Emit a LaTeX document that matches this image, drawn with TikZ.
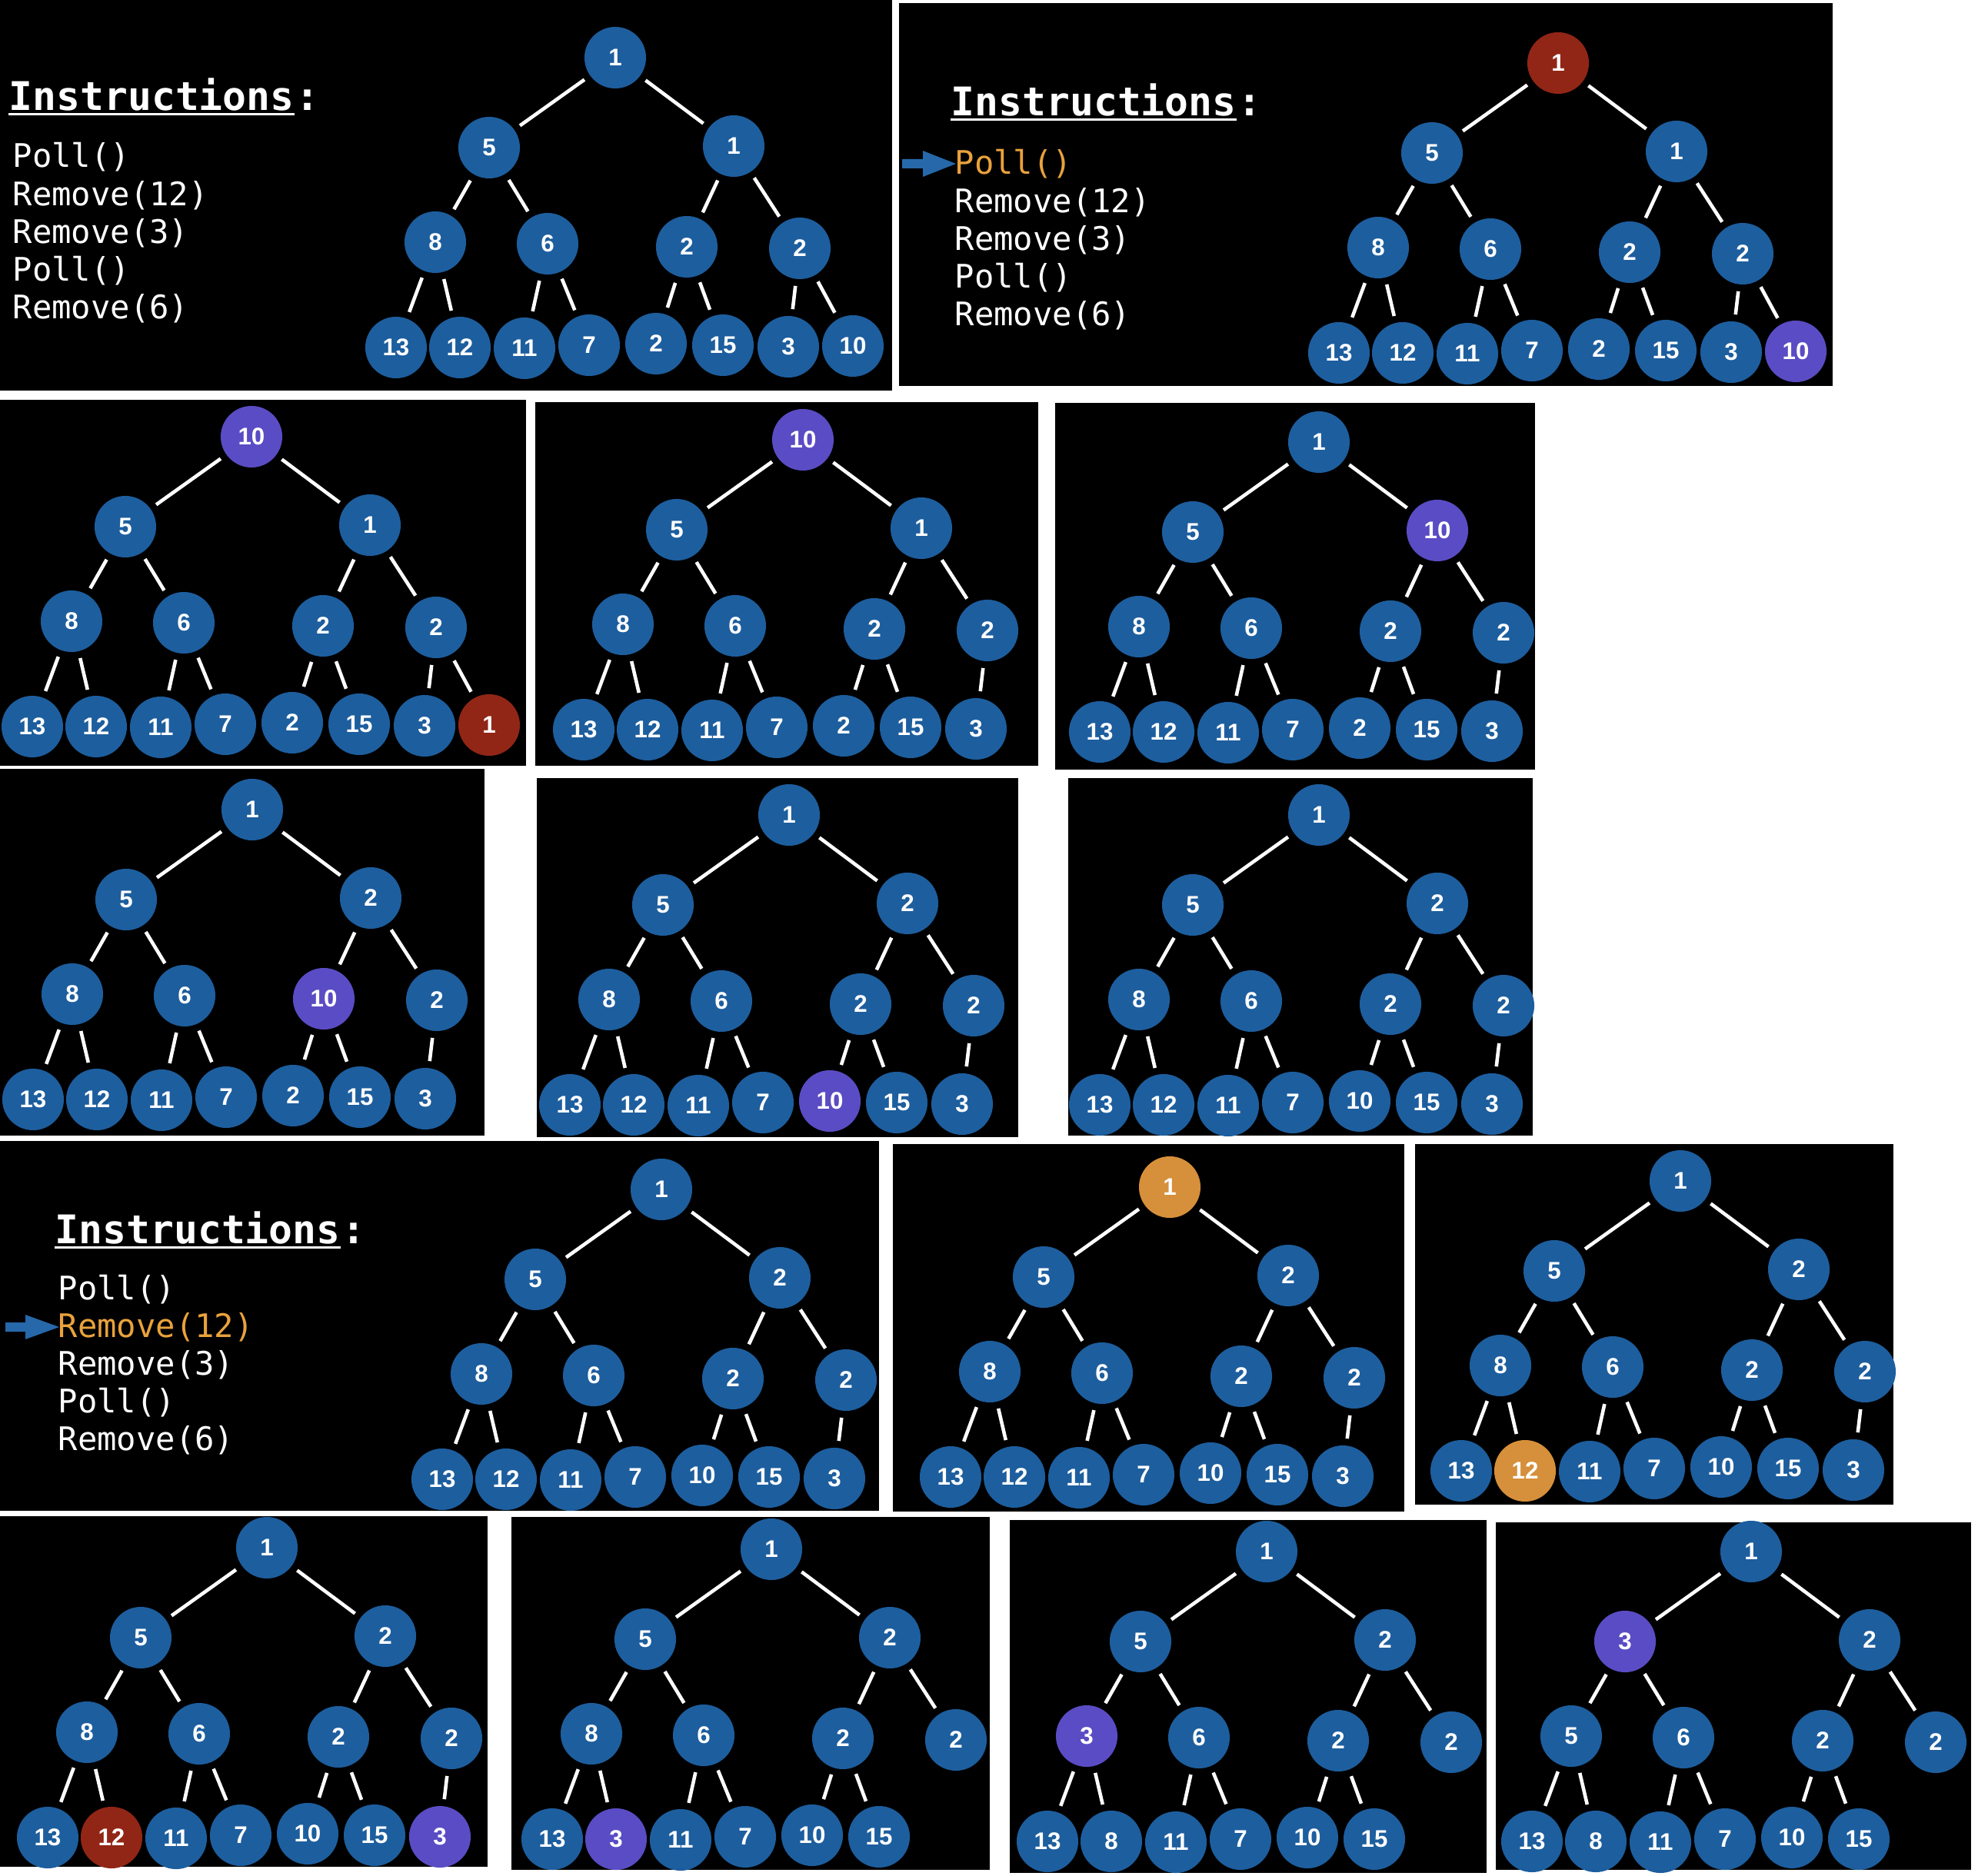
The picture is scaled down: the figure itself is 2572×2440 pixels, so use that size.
\documentclass[tikz,border=0pt]{standalone}
\usepackage{fontspec}
\newfontfamily\monofont{DejaVu Sans Mono}
\newfontfamily\numfont{Liberation Sans}
\definecolor{hblue}{RGB}{29,94,158}
\definecolor{hpurple}{RGB}{90,76,196}
\definecolor{hred}{RGB}{145,38,22}
\definecolor{horange}{RGB}{214,143,58}
\definecolor{hltext}{RGB}{233,162,60}
\definecolor{arrowblue}{RGB}{38,104,170}
% layout of a heap (offsets from the root, in px)
\def\HPxr{0}\def\HPyr{0}
\def\HPxa{-164}\def\HPya{117}
\def\HPxb{154}\def\HPyb{115}
\def\HPxc{-234}\def\HPyc{240}
\def\HPxd{-88}\def\HPyd{242}
\def\HPxe{93}\def\HPye{246}
\def\HPxf{240}\def\HPyf{248}
\def\HPxg{-285}\def\HPyg{377}
\def\HPxh{-202}\def\HPyh{377}
\def\HPxi{-118}\def\HPyi{378}
\def\HPxj{-34}\def\HPyj{374}
\def\HPxk{53}\def\HPyk{372}
\def\HPxl{140}\def\HPyl{374}
\def\HPxm{225}\def\HPym{376}
\def\HPxn{309}\def\HPyn{375}
% parents
\def\HPpa{r}\def\HPpb{r}\def\HPpc{a}\def\HPpd{a}\def\HPpe{b}\def\HPpf{b}
\def\HPpg{c}\def\HPph{c}\def\HPpi{d}\def\HPpj{d}\def\HPpk{e}\def\HPpl{e}
\def\HPpm{f}\def\HPpn{f}
\tikzset{
  hnode/.style={circle, minimum size=0.8cm, inner sep=0pt, text=white,
    font=\numfont\bfseries\fontsize{8.9}{10}\selectfont},
  colB/.style={fill=hblue}, colP/.style={fill=hpurple},
  colR/.style={fill=hred}, colO/.style={fill=horange},
  hedge/.style={draw=white, line width=1.3pt, shorten <=0.085cm, shorten >=0.085cm},
  panel/.style={fill=black},
  ins/.style={anchor=base west, inner sep=0pt, text=white,
    font=\monofont\bfseries\fontsize{14.6}{16}\selectfont},
  cmd/.style={anchor=base west, inner sep=0pt, text=white,
    font=\monofont\fontsize{12}{14}\selectfont},
  cur/.style={cmd, text=hltext},
  uline/.style={draw=white, line width=0.85pt},
  pointer/.style={fill=arrowblue}
}
\newcommand\HeapTree[3]{%
  \begin{scope}[shift={#2}]
    \foreach \n/\v/\s in {#3}{%
      \edef\HPX{\csname HPx\n\endcsname}%
      \edef\HPY{\csname HPy\n\endcsname}%
      \node[hnode,\s] (#1\n) at (\HPX,\HPY) {\v};
    }
    \foreach \n/\v/\s in {#3}{%
      \if r\n\else
        \edef\HPparent{\csname HPp\n\endcsname}%
        \draw[hedge] (#1\HPparent) -- (#1\n);
      \fi
    }
  \end{scope}}
\newcommand\Instr[6]{% #1 prefix, #2 x of title, #3 baseline of title, #4 x of commands, #5 first baseline, #6 index of current line (0 none)
  \node[ins] (#1ins) at (#2,#3) {Instructions};
  \draw[uline] ([yshift=-0.05cm]#1ins.base west) -- ([yshift=-0.05cm]#1ins.base east);
  \node[ins] (#1colon) at (#1ins.base east) {:};
  \foreach \k/\t in {1/Poll(),2/Remove(12),3/Remove(3),4/Poll(),5/Remove(6)}{%
    \pgfmathsetmacro\HPbase{#5+(\k-1)*49.2}%
    \ifnum\k=#6\relax
      \node[cur] (#1cmd\k) at (#4,\HPbase) {\t};
    \else
      \node[cmd] (#1cmd\k) at (#4,\HPbase) {\t};
    \fi
  }}
\begin{document}
\begin{tikzpicture}[x=0.01cm,y=-0.01cm]
\useasboundingbox (0,0) rectangle (2572,2440);
\fill[white] (0,0) rectangle (2572,2440);
% panels
\fill[panel] (0,0) rectangle (1160,508);
\fill[panel] (1169,4) rectangle (2383,502);
\fill[panel] (0,520) rectangle (684,996);
\fill[panel] (696,523) rectangle (1350,996);
\fill[panel] (1372,524) rectangle (1996,1001);
\fill[panel] (0,1000) rectangle (630,1477);
\fill[panel] (698,1012) rectangle (1324,1479);
\fill[panel] (1389,1012) rectangle (1993,1477);
\fill[panel] (0,1484) rectangle (1143,1965);
\fill[panel] (1161,1488) rectangle (1826,1966);
\fill[panel] (1840,1488) rectangle (2462,1957);
\fill[panel] (0,1972) rectangle (634,2428);
\fill[panel] (665,1973) rectangle (1287,2432);
\fill[panel] (1313,1977) rectangle (1933,2436);
\fill[panel] (1945,1980) rectangle (2563,2432);
% instructions
\Instr{A}{11}{144}{16}{218}{0}
\Instr{B}{1236}{151}{1241}{227}{1}
\Instr{I}{71}{1617}{75}{1690}{2}
\fill[pointer] (1173,207) -- (1200,207) -- (1200,196) -- (1243,213) -- (1200,230) -- (1200,219) -- (1173,219) -- cycle;
\fill[pointer] (7,1720) -- (33,1720) -- (33,1710) -- (77,1726) -- (33,1742) -- (33,1732) -- (7,1732) -- cycle;
% heaps
\HeapTree{A}{(800,75)}{r/1/colB,a/5/colB,b/1/colB,c/8/colB,d/6/colB,e/2/colB,f/2/colB,g/13/colB,h/12/colB,i/11/colB,j/7/colB,k/2/colB,l/15/colB,m/3/colB,n/10/colB}
\HeapTree{B}{(2026,82)}{r/1/colR,a/5/colB,b/1/colB,c/8/colB,d/6/colB,e/2/colB,f/2/colB,g/13/colB,h/12/colB,i/11/colB,j/7/colB,k/2/colB,l/15/colB,m/3/colB,n/10/colP}
\HeapTree{C}{(327,568)}{r/10/colP,a/5/colB,b/1/colB,c/8/colB,d/6/colB,e/2/colB,f/2/colB,g/13/colB,h/12/colB,i/11/colB,j/7/colB,k/2/colB,l/15/colB,m/3/colB,n/1/colR}
\HeapTree{D}{(1044,572)}{r/10/colP,a/5/colB,b/1/colB,c/8/colB,d/6/colB,e/2/colB,f/2/colB,g/13/colB,h/12/colB,i/11/colB,j/7/colB,k/2/colB,l/15/colB,m/3/colB}
\HeapTree{E}{(1715,575)}{r/1/colB,a/5/colB,b/10/colP,c/8/colB,d/6/colB,e/2/colB,f/2/colB,g/13/colB,h/12/colB,i/11/colB,j/7/colB,k/2/colB,l/15/colB,m/3/colB}
\HeapTree{F}{(328,1053)}{r/1/colB,a/5/colB,b/2/colB,c/8/colB,d/6/colB,e/10/colP,f/2/colB,g/13/colB,h/12/colB,i/11/colB,j/7/colB,k/2/colB,l/15/colB,m/3/colB}
\HeapTree{G}{(1026,1060)}{r/1/colB,a/5/colB,b/2/colB,c/8/colB,d/6/colB,e/2/colB,f/2/colB,g/13/colB,h/12/colB,i/11/colB,j/7/colB,k/10/colP,l/15/colB,m/3/colB}
\HeapTree{H}{(1715,1060)}{r/1/colB,a/5/colB,b/2/colB,c/8/colB,d/6/colB,e/2/colB,f/2/colB,g/13/colB,h/12/colB,i/11/colB,j/7/colB,k/10/colB,l/15/colB,m/3/colB}
\HeapTree{I}{(860,1547)}{r/1/colB,a/5/colB,b/2/colB,c/8/colB,d/6/colB,e/2/colB,f/2/colB,g/13/colB,h/12/colB,i/11/colB,j/7/colB,k/10/colB,l/15/colB,m/3/colB}
\HeapTree{J}{(1521,1544)}{r/1/colO,a/5/colB,b/2/colB,c/8/colB,d/6/colB,e/2/colB,f/2/colB,g/13/colB,h/12/colB,i/11/colB,j/7/colB,k/10/colB,l/15/colB,m/3/colB}
\HeapTree{K}{(2185,1536)}{r/1/colB,a/5/colB,b/2/colB,c/8/colB,d/6/colB,e/2/colB,f/2/colB,g/13/colB,h/12/colO,i/11/colB,j/7/colB,k/10/colB,l/15/colB,m/3/colB}
\HeapTree{L}{(347,2013)}{r/1/colB,a/5/colB,b/2/colB,c/8/colB,d/6/colB,e/2/colB,f/2/colB,g/13/colB,h/12/colR,i/11/colB,j/7/colB,k/10/colB,l/15/colB,m/3/colP}
\HeapTree{M}{(1003,2015)}{r/1/colB,a/5/colB,b/2/colB,c/8/colB,d/6/colB,e/2/colB,f/2/colB,g/13/colB,h/3/colP,i/11/colB,j/7/colB,k/10/colB,l/15/colB}
\HeapTree{N}{(1647,2018)}{r/1/colB,a/5/colB,b/2/colB,c/3/colP,d/6/colB,e/2/colB,f/2/colB,g/13/colB,h/8/colB,i/11/colB,j/7/colB,k/10/colB,l/15/colB}
\HeapTree{O}{(2277,2018)}{r/1/colB,a/3/colP,b/2/colB,c/5/colB,d/6/colB,e/2/colB,f/2/colB,g/13/colB,h/8/colB,i/11/colB,j/7/colB,k/10/colB,l/15/colB}
\end{tikzpicture}
\end{document}
